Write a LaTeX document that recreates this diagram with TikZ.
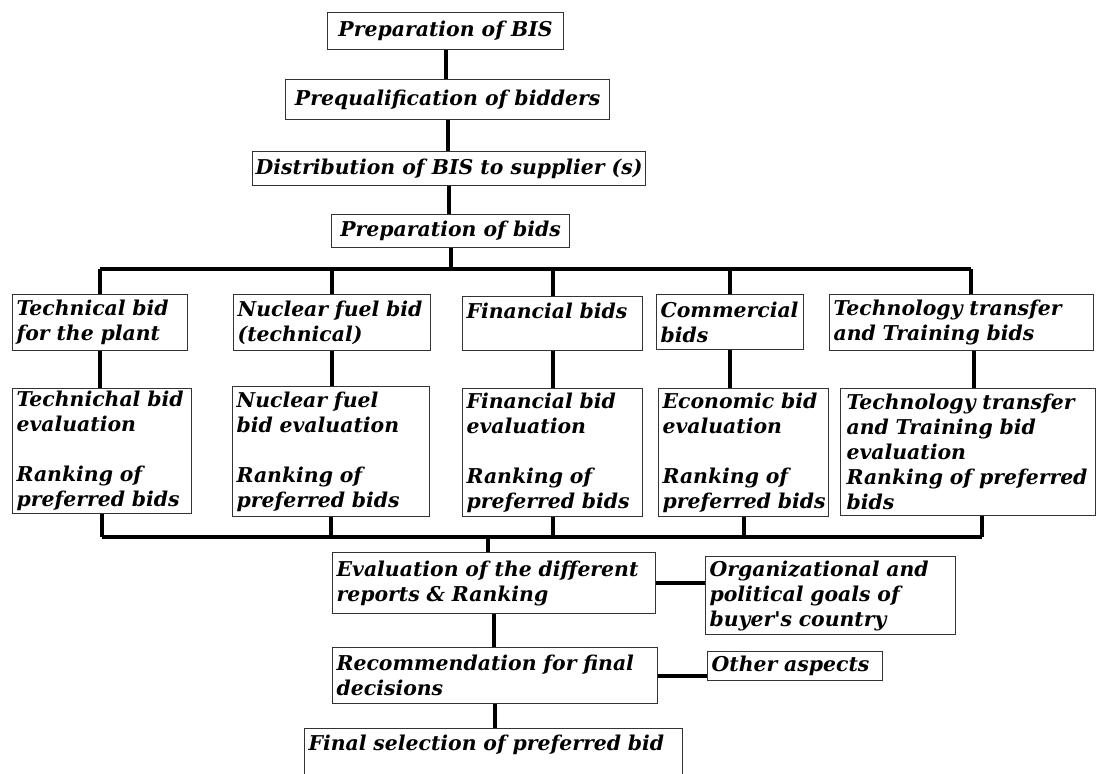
\documentclass[tikz,border=0pt]{standalone}
\usepackage{fontspec}
\setmainfont{DejaVu Serif}

\tikzset{
  box/.style={draw=black!80, line width=0.6pt, anchor=north west, inner xsep=2pt, inner ysep=1pt,
    align=left, font={\fontsize{10.2}{12.5}\selectfont\bfseries\itshape}},
  headbox/.style={box, align=center, inner sep=0pt},
  link/.style={line width=2pt},
}

\begin{document}
\begin{tikzpicture}[x=0.5pt,y=-0.5pt]
\useasboundingbox[fill=white] (0,0) rectangle (1096,773);

% the chain at the top
\node[headbox, minimum width=118pt, minimum height=18.5pt] (bis) at (327,12) {Preparation of BIS};
\node[headbox, minimum width=162pt, minimum height=20pt] (preq) at (285,79) {Prequalification of bidders};
\node[headbox, minimum width=196.5pt, minimum height=17pt] (dist) at (252,151) {Distribution of BIS to supplier (s)};
\node[headbox, minimum width=119pt, minimum height=16.5pt] (bids) at (331,214) {Preparation of bids};

% the five kinds of bids
\node[box, text width=83.5pt, minimum height=28pt] (tech) at (12,294) {Technical bid\\for the plant};
\node[box, text width=94.5pt, minimum height=28pt] (fuel) at (233,294) {Nuclear fuel bid\\(technical)};
\node[box, text width=86pt, minimum height=27pt] (fin) at (462,296) {Financial bids\\ \mbox{}};
\node[box, text width=69.5pt, minimum height=27.5pt] (com) at (656,294) {Commercial\\bids};
\node[box, text width=128pt, minimum height=28pt] (ttb) at (829,294) {Technology transfer\\and Training bids};

% their evaluations
\node[box, text width=85.5pt, minimum height=62.5pt] (techev) at (12,388) {Technichal~bid\\evaluation\\[12.5pt]Ranking of\\preferred~bids};
\node[box, text width=94.5pt, minimum height=65pt] (fuelev) at (232,386) {Nuclear fuel\\bid evaluation\\[12.5pt]Ranking of\\preferred~bids};
\node[box, text width=86pt, minimum height=64pt] (finev) at (462,388) {Financial bid\\evaluation\\[12.5pt]Ranking of\\preferred~bids};
\node[box, text width=81pt, minimum height=64pt] (ecoev) at (658,388) {Economic bid\\evaluation\\[12.5pt]Ranking of\\preferred~bids};
\node[box, inner xsep=3pt, text width=121.5pt, minimum height=63.5pt] (ttev) at (840,388) {Technology~transfer\\and Training bid\\evaluation\\Ranking~of~\mbox{preferred}\\bids};

% the final steps
\node[box, text width=157.5pt, minimum height=30.5pt] (evalrep) at (332,552) {Evaluation~of~the~different\\reports \& Ranking};
\node[box, text width=121pt, minimum height=39pt] (goals) at (705,556) {Organizational~and\\political goals of\\buyer\textquotesingle s country};
\node[box, text width=158.5pt, minimum height=28pt] (recom) at (332,647) {Recommendation~for~final\\decisions};
\node[box, text width=83.5pt, minimum height=14.5pt] (other) at (707,651) {Other~aspects};
\node[box, text width=185pt, minimum height=27pt] (final) at (304,728) {Final~selection~of~preferred~bid\\ \mbox{}};

\coordinate (bustop) at (445,269);
\coordinate (busbot) at (488,537);
% the technology transfer column joins off centre
\coordinate (ttbtop) at ([xshift=4.5pt]ttb.north);
\coordinate (ttbbot) at ([xshift=6pt]ttb.south);
\coordinate (ttevbot) at ([xshift=7pt]ttev.south);

\draw[link] (bis.south) -- (bis.south |- preq.north);
\draw[link] (preq.south) -- (preq.south |- dist.north);
\draw[link] (dist.south) -- (dist.south |- bids.north);
\draw[link] (bids.south) -- (bids.south |- bustop);
\draw[link] (tech.north |- bustop) -- (ttbtop |- bustop);
\foreach \n in {tech,fuel,fin,com}
  \draw[link] (\n.north) -- (\n.north |- bustop);
\draw[link] (ttbtop) -- (ttbtop |- bustop);
\foreach \n/\m in {tech/techev,fuel/fuelev,fin/finev,com/ecoev}
  \draw[link] (\n.south) -- (\n.south |- \m.north);
\draw[link] (ttbbot) -- (ttbbot |- ttev.north);
\draw[link] (techev.south |- busbot) -- (ttevbot |- busbot);
\foreach \m in {techev,fuelev,finev,ecoev}
  \draw[link] (\m.south) -- (\m.south |- busbot);
\draw[link] (ttevbot) -- (ttevbot |- busbot);
\draw[link] (busbot) -- (busbot |- evalrep.north);
\draw[link] (evalrep.east) -- (evalrep.east -| goals.west);
\draw[link] (evalrep.south) -- (evalrep.south |- recom.north);
\draw[link] (recom.east) -- (recom.east -| other.west);
\draw[link] (recom.south) -- (recom.south |- final.north);
\end{tikzpicture}
\end{document}
